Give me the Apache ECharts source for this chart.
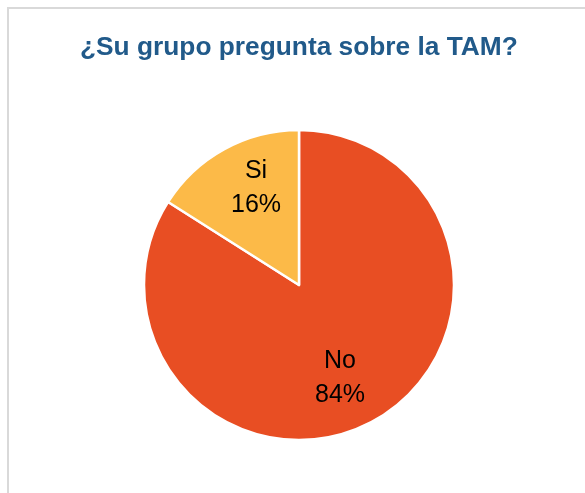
<!DOCTYPE html>
<html>
<head>
<meta charset="utf-8">
<script src="https://cdn.jsdelivr.net/npm/echarts@6/dist/echarts.min.js"></script>
<style>
html,body{margin:0;padding:0;background:#fff;}
#frame{position:absolute;left:7px;top:7px;width:600px;height:600px;border-left:2px solid #d9d9d9;border-top:2px solid #d9d9d9;}
#c{position:absolute;left:0;top:0;width:585px;height:493px;}
</style>
</head>
<body>
<div id="frame"></div>
<div id="c"></div>
<script>
const titleText = '¿Su grupo pregunta sobre la TAM?';
const categories = ['No', 'Si'];
const values = [84, 16];
const colors = ['#E84E23', '#FCBA48'];

const data = categories.map((c, i) => ({ name: c, value: values[i], itemStyle: { color: colors[i] } }));
const labelData = categories.map((c, i) => ({ name: c, value: values[i] }));
const labelShift = [[-12, -3], [10, 0]];

const chart = echarts.init(document.getElementById('c'), null, { renderer: 'canvas' });
chart.setOption({
  animation: false,
  backgroundColor: 'transparent',
  title: {
    text: titleText,
    left: 75,
    top: 30,
    textStyle: { fontFamily: 'Liberation Sans, Arial, sans-serif', fontWeight: 'bold', fontSize: 26.3, color: '#215A8A' }
  },
  series: [
    {
      type: 'pie',
      center: [299, 285],
      radius: [0, 155],
      startAngle: 90,
      clockwise: true,
      silent: true,
      label: { show: false },
      labelLine: { show: false },
      itemStyle: { borderColor: '#ffffff', borderWidth: 2.5 },
      data: data
    },
    {
      type: 'pie',
      center: [299, 285],
      radius: [60, 154],
      startAngle: 90,
      clockwise: true,
      silent: true,
      itemStyle: { color: 'rgba(0,0,0,0)' },
      label: {
        show: true,
        position: 'inside',
        formatter: p => p.name + '\n' + p.value + '%',
        fontFamily: 'Liberation Sans, Arial, sans-serif',
        fontSize: 25,
        lineHeight: 34,
        color: '#000'
      },
      labelLayout: p => ({ dx: labelShift[p.dataIndex][0], dy: labelShift[p.dataIndex][1] }),
      labelLine: { show: false },
      data: labelData
    }
  ]
});
</script>
</body>
</html>
